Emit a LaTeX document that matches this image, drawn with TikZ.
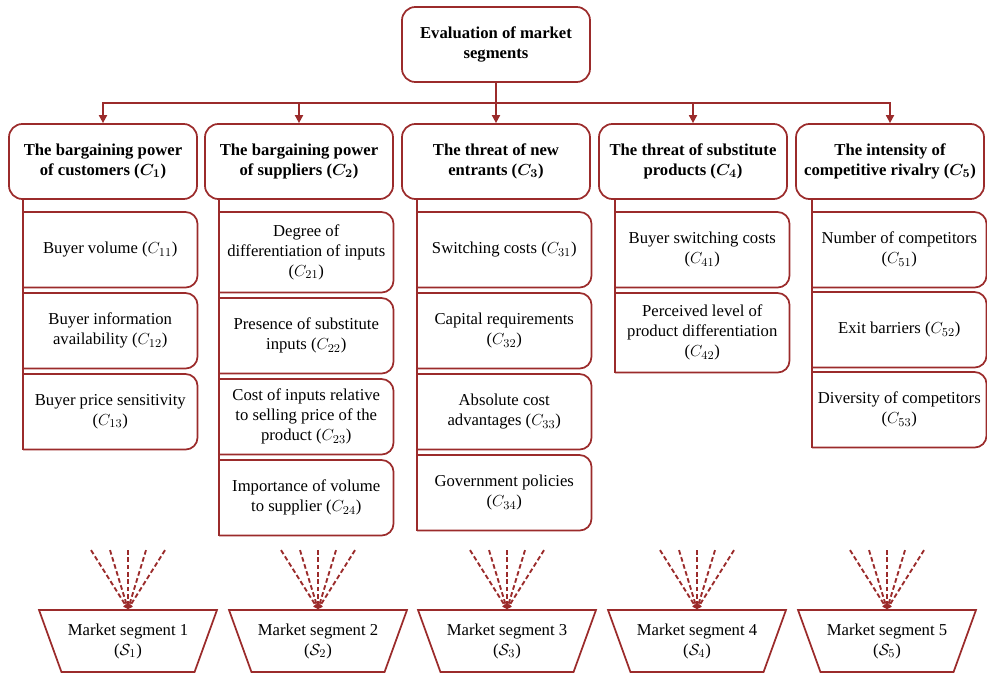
\documentclass[tikz,border=0pt]{standalone}
\usepackage{fontspec}
\setmainfont{Liberation Serif}
\usetikzlibrary{arrows.meta,calc,shapes.geometric}
\definecolor{segred}{HTML}{9B2B2B}

\begin{document}
\begin{tikzpicture}[x=0.75pt, y=-0.75pt,
  every node/.style={align=center, inner sep=0pt, font=\fontsize{12.5}{15}\selectfont},
  headbox/.style={draw=segred, line width=1.3pt, rounded corners=10pt,
    minimum width=141pt, minimum height=56.25pt,
    font=\fontsize{12.5}{15}\selectfont\bfseries\boldmath},
  subbox/.style={minimum width=130.5pt, anchor=north west},
  subline/.style={draw=segred, line width=1.3pt, rounded corners=9pt},
  link/.style={draw=segred, line width=1.3pt, -{Triangle[length=6pt,width=6pt]}},
  trunk/.style={draw=segred, line width=1.3pt},
  funnel/.style={trapezium, trapezium angle=60, shape border rotate=180,
    trapezium stretches=true, minimum width=133.5pt, minimum height=46.5pt,
    draw=segred, line width=1.3pt},
  fan/.style={draw=segred, line width=1.4pt, dash pattern=on 3.5pt off 2pt,
    -{Triangle[length=3.5pt,width=4pt]}}]
\useasboundingbox (0,0) rectangle (987,674);

% goal
\node[headbox] (top) at (496,44.5) {Evaluation of market\\segments};
\coordinate (bus) at (496,103);

% five forces
\node[headbox] (c1) at (103,161.5) {The bargaining power\\of customers ($C_1$)};
\node[headbox] (c2) at (299,161.5) {The bargaining power\\of suppliers ($C_2$)};
\node[headbox] (c3) at (496,161.5) {The threat of new\\entrants ($C_3$)};
\node[headbox] (c4) at (693,161.5) {The threat of substitute\\products ($C_4$)};
\node[headbox] (c5) at (890,161.5) {The intensity of\\competitive rivalry ($C_5$)};
\foreach \i in {1,...,5}
  \draw[link] (top.south) -- (bus) -| (c\i.north);

% sub-criteria, rounded on the right only
\foreach \n/\x/\y/\h/\t in {
  11/23/212/56.25/Buyer volume ($C_{11}$),
  12/23/293/56.25/Buyer information\\availability ($C_{12}$),
  13/23/374/56.25/Buyer price sensitivity\\($C_{13}$),
  21/219/212/60/Degree of\\differentiation of inputs\\($C_{21}$),
  22/219/298/56.25/Presence of substitute\\inputs ($C_{22}$),
  23/219/379/56.25/Cost of inputs relative\\to selling price of the\\product ($C_{23}$),
  24/219/460/56.25/Importance of volume\\to supplier ($C_{24}$),
  31/417/212/56.25/Switching costs ($C_{31}$),
  32/417/293/56.25/Capital requirements\\($C_{32}$),
  33/417/374/56.25/Absolute cost\\advantages ($C_{33}$),
  34/417/455/56.25/Government policies\\($C_{34}$),
  41/615/212/56.25/Buyer switching costs\\($C_{41}$),
  42/615/293/59.25/Perceived level of\\product differentiation\\($C_{42}$),
  51/812/212/56.25/Number of competitors\\($C_{51}$),
  52/812/292/56.25/Exit barriers ($C_{52}$),
  53/812/372/56.25/Diversity of competitors\\($C_{53}$)}
{
  \node[subbox, minimum height=\h pt] (s\n) at (\x,\y) {\t};
  \draw[subline] (s\n.north west) -- (s\n.north east) -- (s\n.south east) -- (s\n.south west);
}
\foreach \c/\l in {1/13, 2/24, 3/34, 4/42, 5/53}
  \draw[trunk] (c\c.south -| s\l.west) -- (s\l.south west);

% market segments
\foreach \i/\x in {1/128, 2/318, 3/507, 4/697, 5/887}
  \node[funnel] (m\i) at (\x,641) {Market segment \i\\($\mathcal{S}_\i$)};
\foreach \i in {1,...,5}
  \foreach \dx [count=\j] in {-37,-18,0,18,37}
  {
    \coordinate (f\i\j) at ($(m\i.north)+(\dx,-59)$);
    \draw[fan] (f\i\j) -- (m\i.north);
  }
\end{tikzpicture}
\end{document}
